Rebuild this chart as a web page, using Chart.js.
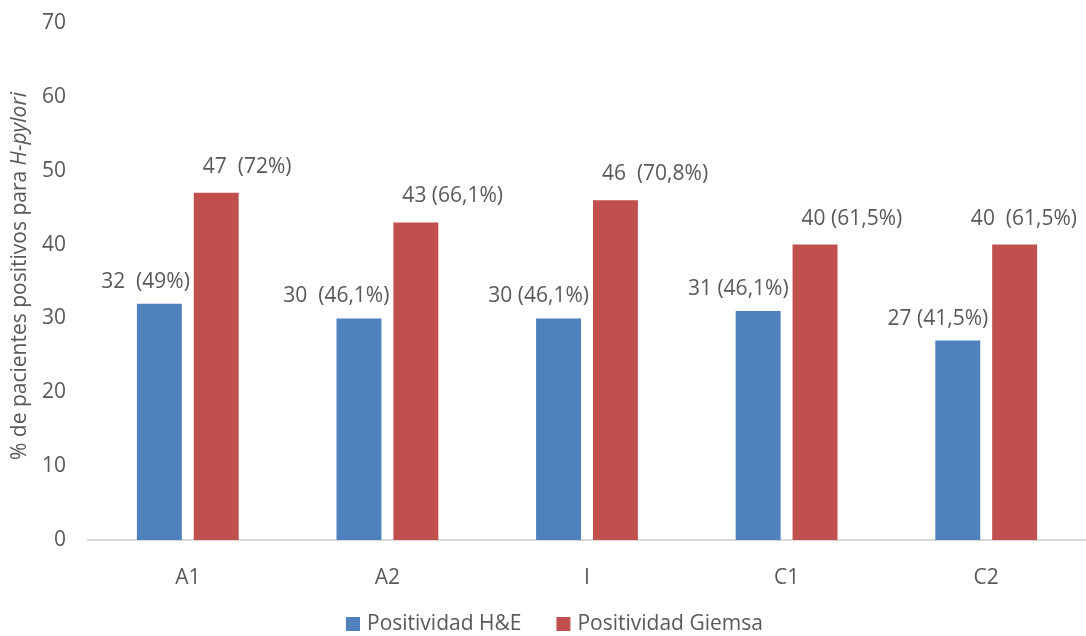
<!DOCTYPE html>
<html>
<head>
<meta charset="utf-8">
<script src="https://cdn.jsdelivr.net/npm/chart.js@4.4.0/dist/chart.umd.min.js"></script>
<style>
  body { margin: 0; background: #fff; }
  #wrap { width: 1086px; height: 636px; }
</style>
</head>
<body>
<div id="wrap"><canvas id="chart"></canvas></div>
<script>
const categories = ["A1", "A2", "I", "C1", "C2"];
const heValues = [32, 30, 30, 31, 27];
const giemsaValues = [47, 43, 46, 40, 40];
const heLabels = ["32  (49%)", "30  (46,1%)", "30 (46,1%)", "31 (46,1%)", "27 (41,5%)"];
const giemsaLabels = ["47  (72%)", "43 (66,1%)", "46  (70,8%)", "40 (61,5%)", "40  (61,5%)"];
const yTicks = [0, 10, 20, 30, 40, 50, 60, 70];

const FONT = "'Open Sans', sans-serif";
const SIZE = 21;
const TEXT = "#595959";

// value labels, rotated axis title (italic part) and bottom legend
const labelPlugin = {
    id: "labels",
    afterDatasetsDraw(chart) {
        const ctx = chart.ctx;
        ctx.save();
        ctx.font = SIZE + "px " + FONT;
        ctx.fillStyle = TEXT;
        ctx.textBaseline = "middle";
        const allLabels = [heLabels, giemsaLabels];
        chart.data.datasets.forEach((ds, di) => {
            const meta = chart.getDatasetMeta(di);
            meta.data.forEach((bar, i) => {
                const txt = allLabels[di][i];
                if (di === 0) {
                    ctx.textAlign = "right";
                    ctx.fillText(txt, bar.x + bar.width / 2 + 8, bar.y - 22);
                } else {
                    ctx.textAlign = "left";
                    let x = bar.x - bar.width / 2 + 9;
                    const w = ctx.measureText(txt).width;
                    if (x + w > chart.width - 9) x = chart.width - 9 - w;
                    ctx.fillText(txt, x, bar.y - 26);
                }
            });
        });

        // legend
        let lx = 346;
        const ly = 624;
        chart.data.datasets.forEach(ds => {
            ctx.fillStyle = ds.backgroundColor;
            ctx.fillRect(lx, ly - 7, 14, 14);
            ctx.fillStyle = TEXT;
            ctx.textAlign = "left";
            ctx.fillText(ds.label, lx + 21, ly);
            lx += 21 + ctx.measureText(ds.label).width + 35;
        });

        // y axis title
        const part1 = "% de pacientes positivos para ";
        const part2 = "H-pylori";
        ctx.font = SIZE + "px " + FONT;
        const w1 = ctx.measureText(part1).width;
        ctx.font = "italic " + SIZE + "px " + FONT;
        const w2 = ctx.measureText(part2).width;
        ctx.translate(20, 276);
        ctx.rotate(-Math.PI / 2);
        ctx.textAlign = "left";
        const start = -(w1 + w2) / 2;
        ctx.font = SIZE + "px " + FONT;
        ctx.fillText(part1, start, 0);
        ctx.font = "italic " + SIZE + "px " + FONT;
        ctx.fillText(part2, start + w1, 0);
        ctx.restore();
    }
};

new Chart(document.getElementById("chart"), {
    type: "bar",
    data: {
        labels: categories,
        datasets: [
            { label: "Positividad H&E", data: heValues, backgroundColor: "#4F81BD",
              categoryPercentage: 0.57, barPercentage: 0.79 },
            { label: "Positividad Giemsa", data: giemsaValues, backgroundColor: "#C0504D",
              categoryPercentage: 0.57, barPercentage: 0.79 }
        ]
    },
    options: {
        responsive: true,
        maintainAspectRatio: false,
        animation: false,
        layout: { padding: { top: 23, right: 0, left: 0, bottom: 38 } },
        plugins: {
            legend: { display: false },
            tooltip: { enabled: false }
        },
        scales: {
            x: {
                grid: { display: false },
                border: { color: "#D9D9D9", width: 2 },
                ticks: { font: { size: SIZE, family: FONT }, color: TEXT, padding: 17 },
                afterFit: s => { s.height = 58; }
            },
            y: {
                min: 0,
                max: 70,
                afterBuildTicks: s => { s.ticks = yTicks.map(v => ({ value: v })); },
                grid: { display: false },
                border: { display: false },
                ticks: { font: { size: SIZE, family: FONT, lineHeight: 0.8 }, color: TEXT, padding: 14 },
                afterFit: s => { s.width = 88; s.paddingTop = 0; }
            }
        }
    },
    plugins: [labelPlugin]
});
</script>
</body>
</html>
